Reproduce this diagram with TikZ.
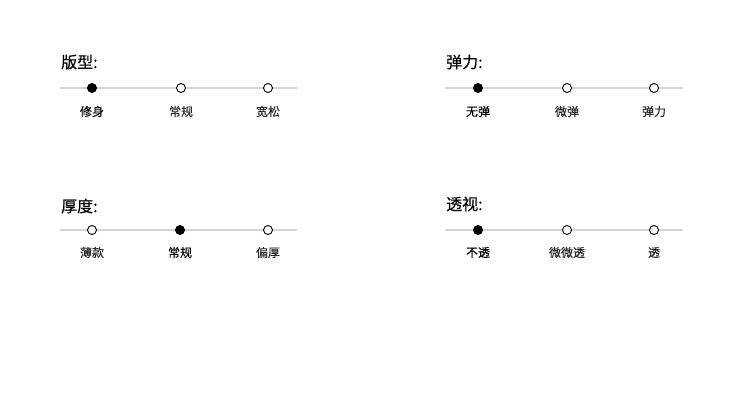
\documentclass[tikz,border=0pt]{standalone}
\usepackage{fontspec}
\setmainfont{Noto Sans CJK SC}
\newfontfamily\titlefont{Noto Sans CJK SC}[FakeBold=0.3]
\newfontfamily\optfont{Noto Sans CJK SC}[FakeBold=0.2]
\definecolor{trackgray}{HTML}{D4D4D4}
\definecolor{optgray}{HTML}{2A2A2A}
\begin{document}
\begin{tikzpicture}[
    x=1pt, y=-1pt,
    title/.style={anchor=west, inner sep=0pt, font=\fontsize{16}{18}\selectfont\titlefont},
    opt/.style={inner sep=0pt, text=optgray, font=\fontsize{12}{14}\selectfont\optfont},
    optsel/.style={opt, text=black},
    track/.style={draw=trackgray, line width=1.6pt},
    dot/.style={circle, draw=black, line width=.9pt, fill=white,
        minimum size=9pt, inner sep=0pt},
    dotsel/.style={dot, fill=black}]
    \useasboundingbox (0,0) rectangle (749,409);

    % Version fit.
    \node[title] (fit) at (61,62) {版型:};
    \coordinate (fitl) at (60,88);
    \coordinate (fitr) at (297,88);
    \draw[track] (fitl) -- (fitr);
    \node[dotsel] (fita) at (92,88) {};
    \node[dot] (fitb) at (181,88) {};
    \node[dot] (fitc) at (268,88) {};
    \node[optsel] (fitA) at (92,111.5) {修身};
    \node[opt] (fitB) at (181,111.5) {常规};
    \node[opt] (fitC) at (268,111.5) {宽松};

    % Elasticity.
    \node[title] (ela) at (446,62) {弹力:};
    \coordinate (elal) at (445,88);
    \coordinate (elar) at (683,88);
    \draw[track] (elal) -- (elar);
    \node[dotsel] (elaa) at (478,88) {};
    \node[dot] (elab) at (567,88) {};
    \node[dot] (elac) at (654,88) {};
    \node[optsel] (elaA) at (478,111.5) {无弹};
    \node[opt] (elaB) at (567,111.5) {微弹};
    \node[opt] (elaC) at (654,111.5) {弹力};

    % Thickness.
    \node[title] (thk) at (61,206) {厚度:};
    \coordinate (thkl) at (60,230);
    \coordinate (thkr) at (297,230);
    \draw[track] (thkl) -- (thkr);
    \node[dot] (thka) at (92,230) {};
    \node[dotsel] (thkb) at (180,230) {};
    \node[dot] (thkc) at (268,230) {};
    \node[opt] (thkA) at (92,252.5) {薄款};
    \node[optsel] (thkB) at (180,252.5) {常规};
    \node[opt] (thkC) at (268,252.5) {偏厚};

    % See-through.
    \node[title] (see) at (446,204) {透视:};
    \coordinate (seel) at (445,230);
    \coordinate (seer) at (683,230);
    \draw[track] (seel) -- (seer);
    \node[dotsel] (seea) at (478,230) {};
    \node[dot] (seeb) at (567,230) {};
    \node[dot] (seec) at (654,230) {};
    \node[optsel] (seeA) at (478,252.5) {不透};
    \node[opt] (seeB) at (567,252.5) {微微透};
    \node[opt] (seeC) at (654,252.5) {透};
\end{tikzpicture}
\end{document}
